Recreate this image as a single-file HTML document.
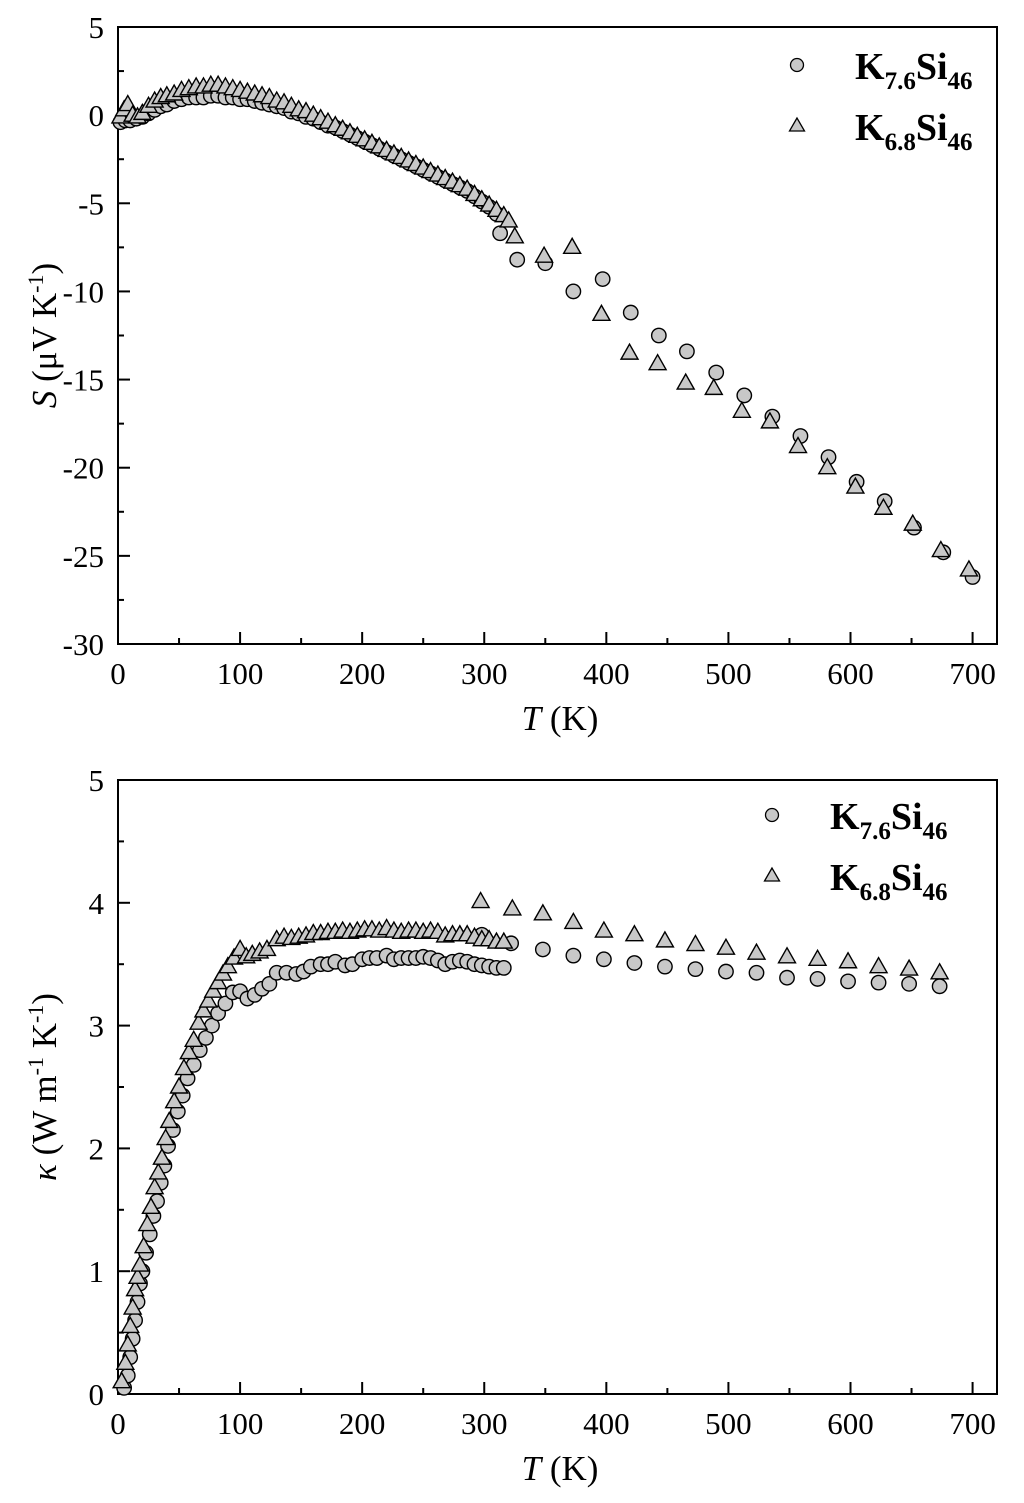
<!DOCTYPE html>
<html><head><meta charset="utf-8"><style>
html,body{margin:0;padding:0;background:#fff}
svg{display:block;font-family:"Liberation Serif",serif}
</style></head><body>
<svg id="chart" width="1024" height="1503" viewBox="0 0 1024 1503">
<g id="top"></g>
<g id="bot"></g>
</svg>
<script>
// Seebeck data (T in K, S in uV/K)
const sCircT=[2,6,10,15,20,25,30,35,40,46,52,58,64,70,76,82,88,94,100,106,112,118,124,130,136,142,148,154,160,166,172,178,184,190,196,202,208,214,220,226,232,238,244,250,256,262,268,274,280,286,292,298,304,310,313,327,350,373,397,420,443,466,490,513,536,559,582,605,628,652,676,700];
const sCircV=[-0.4,-0.3,-0.3,-0.2,-0.1,0.1,0.3,0.5,0.6,0.8,0.9,1.0,1.0,1.0,1.1,1.1,1.0,1.0,0.9,0.9,0.8,0.7,0.6,0.5,0.4,0.2,0.1,-0.1,-0.2,-0.4,-0.6,-0.7,-0.9,-1.1,-1.3,-1.5,-1.7,-1.9,-2.1,-2.3,-2.5,-2.7,-2.9,-3.1,-3.3,-3.5,-3.7,-3.9,-4.1,-4.3,-4.6,-4.9,-5.2,-5.6,-6.7,-8.2,-8.4,-10.0,-9.3,-11.2,-12.5,-13.4,-14.6,-15.9,-17.1,-18.2,-19.4,-20.8,-21.9,-23.4,-24.8,-26.2];
const sTriT=[2,5,8,12,16,20,25,30,35,40,46,52,58,64,70,76,82,88,94,100,106,112,118,124,130,136,142,148,154,160,166,172,178,184,190,196,202,208,214,220,226,232,238,244,250,256,262,268,274,280,286,292,298,304,310,316,320,325,349,372,396,419,442,465,488,511,534,557,581,604,627,651,674,697];
const sTriV=[-0.1,0.3,0.6,0.0,-0.1,0.1,0.5,0.8,1.0,1.1,1.2,1.4,1.5,1.6,1.6,1.7,1.7,1.6,1.5,1.4,1.3,1.2,1.1,1.0,0.8,0.7,0.5,0.3,0.2,0.0,-0.2,-0.4,-0.6,-0.8,-1.0,-1.2,-1.4,-1.6,-1.8,-2.0,-2.2,-2.4,-2.6,-2.8,-3.0,-3.2,-3.4,-3.6,-3.8,-4.0,-4.2,-4.5,-4.8,-5.1,-5.4,-5.7,-6.0,-6.9,-8.0,-7.5,-11.3,-13.5,-14.1,-15.2,-15.5,-16.8,-17.4,-18.8,-20.0,-21.1,-22.3,-23.2,-24.7,-25.8];
// Thermal conductivity data (W m-1 K-1)
const kCircT=[5,8,10,12,14,16,18,20,23,26,29,32,35,38,41,45,49,53,57,62,67,72,77,82,88,94,100,106,112,118,124,130,138,146,152,158,166,172,178,186,192,200,206,212,220,226,232,238,244,250,256,262,268,274,280,286,292,298,304,310,316,298,322,348,373,398,423,448,473,498,523,548,573,598,623,648,673];
const kCircV=[0.05,0.15,0.3,0.45,0.6,0.75,0.9,1.0,1.15,1.3,1.45,1.57,1.72,1.86,2.02,2.15,2.3,2.43,2.57,2.68,2.8,2.9,3.0,3.1,3.18,3.27,3.28,3.22,3.25,3.3,3.34,3.43,3.43,3.42,3.44,3.48,3.5,3.5,3.52,3.49,3.5,3.54,3.55,3.55,3.57,3.54,3.55,3.55,3.55,3.56,3.55,3.53,3.5,3.52,3.53,3.52,3.5,3.49,3.48,3.47,3.47,3.74,3.67,3.62,3.57,3.54,3.51,3.48,3.46,3.44,3.43,3.39,3.38,3.36,3.35,3.34,3.32];
const kTriT=[3,6,8,10,12,14,16,18,21,24,27,30,33,36,39,42,46,50,54,58,62,66,70,74,78,82,86,90,95,100,105,110,116,122,130,136,142,148,154,160,166,172,178,184,190,196,202,208,214,220,226,232,238,244,250,256,262,268,274,280,286,292,298,304,310,316,297,323,348,373,398,423,448,473,498,523,548,573,598,623,648,673];
const kTriV=[0.1,0.25,0.4,0.55,0.7,0.85,0.95,1.05,1.2,1.38,1.52,1.68,1.8,1.92,2.08,2.22,2.38,2.5,2.65,2.78,2.88,3.02,3.12,3.2,3.28,3.35,3.42,3.48,3.55,3.62,3.56,3.58,3.6,3.62,3.7,3.72,3.71,3.72,3.73,3.75,3.75,3.76,3.76,3.77,3.76,3.77,3.78,3.78,3.77,3.79,3.77,3.76,3.77,3.77,3.76,3.77,3.76,3.73,3.74,3.74,3.74,3.72,3.7,3.7,3.68,3.68,4.01,3.95,3.91,3.84,3.77,3.74,3.69,3.66,3.63,3.59,3.56,3.54,3.52,3.48,3.46,3.43];
const xTicks=[0,100,200,300,400,500,600,700];
const sTicks=[5,0,-5,-10,-15,-20,-25,-30];
const kTicks=[0,1,2,3,4,5];

const NS='http://www.w3.org/2000/svg';
function mk(parent,tag,attrs,name){const e=document.createElementNS(NS,tag);for(const k in attrs)e.setAttribute(k,attrs[k]);


parent.appendChild(e);return e;}
const XL=118,XR=997;
const xs=t=>XL+(t-0)/(720)*(XR-XL);

function panel(g,yTop,yBot,ymin,ymax,yticks,yminorStep,circT,circV,triT,triV,ytitle,leg){
  const ys=v=>yBot-(v-ymin)/(ymax-ymin)*(yBot-yTop);
  mk(g,'rect',{x:XL,y:yTop,width:XR-XL,height:yBot-yTop,fill:'none',stroke:'#000','stroke-width':2},'plot-frame');
  for(let t=0;t<=700;t+=50){const major=t%100===0;
    mk(g,'line',{x1:xs(t),x2:xs(t),y1:yBot,y2:yBot-(major?12:6),stroke:'#000','stroke-width':2},'x-tick');}
  xTicks.forEach(t=>{const e=mk(g,'text',{x:xs(t),y:yBot+40,'font-size':31,'text-anchor':'middle'},'x-tick-label');e.textContent=t;});
  for(let v=ymin;v<=ymax+1e-9;v+=yminorStep){const major=Math.abs(v-Math.round(v/ (yminorStep*2))*(yminorStep*2))<1e-6;
    mk(g,'line',{x1:XL,x2:XL+(major?12:6),y1:ys(v),y2:ys(v),stroke:'#000','stroke-width':2},'y-tick');}
  yticks.forEach(v=>{const e=mk(g,'text',{x:104,y:ys(v)+11,'font-size':31,'text-anchor':'end'},'y-tick-label');e.textContent=v;});
  const xt=mk(g,'text',{x:560,y:yBot+86,'font-size':35,'text-anchor':'middle'},'x-axis-title');
  xt.innerHTML='<tspan font-style="italic">T</tspan> (K)';
  const yt=mk(g,'text',{x:0,y:0,'font-size':35,'text-anchor':'middle',transform:`translate(56,${(yTop+yBot)/2}) rotate(-90)`},'y-axis-title');
  yt.innerHTML=ytitle;
  const sc=mk(g,'g',{},'series-k7.6si46');
  circT.forEach((t,i)=>mk(sc,'circle',{cx:xs(t),cy:ys(circV[i]),r:7.2,fill:'#c8c8c8',stroke:'#000','stroke-width':1.4},'point-circle'));
  const st=mk(g,'g',{},'series-k6.8si46');
  triT.forEach((t,i)=>{const x=xs(t),y=ys(triV[i]);
    mk(st,'polygon',{points:`${x},${y-9} ${x-8.5},${y+6} ${x+8.5},${y+6}`,fill:'#c8c8c8',stroke:'#000','stroke-width':1.4},'point-triangle');});
  const lg=mk(g,'g',{},'legend');
  mk(lg,'circle',{cx:leg[0],cy:leg[1],r:6.5,fill:'#c8c8c8',stroke:'#000','stroke-width':1.3},'legend-circle-marker');
  const ty=leg[1]+61;
  mk(lg,'polygon',{points:`${leg[0]},${ty-8} ${leg[0]-7.5},${ty+5} ${leg[0]+7.5},${ty+5}`,fill:'#c8c8c8',stroke:'#000','stroke-width':1.3},'legend-triangle-marker');
  const l1=mk(lg,'text',{x:leg[2],y:leg[1]+14,'font-size':38,'font-weight':'bold'},'legend-label-k7.6si46');
  l1.innerHTML='K<tspan font-size="25" dy="10">7.6</tspan><tspan dy="-10">Si</tspan><tspan font-size="25" dy="10">46</tspan>';
  const l2=mk(lg,'text',{x:leg[2],y:ty+14,'font-size':38,'font-weight':'bold'},'legend-label-k6.8si46');
  l2.innerHTML='K<tspan font-size="25" dy="10">6.8</tspan><tspan dy="-10">Si</tspan><tspan font-size="25" dy="10">46</tspan>';
}
panel(document.getElementById('top'),27,644,-30,5,sTicks,2.5,sCircT,sCircV,sTriT,sTriV,
  '<tspan font-style="italic">S</tspan> (μV K<tspan font-size="22" dy="-13">-1</tspan><tspan dy="13">)</tspan>',[797,65,855]);
panel(document.getElementById('bot'),780,1394,0,5,kTicks,0.5,kCircT,kCircV,kTriT,kTriV,
  '<tspan font-style="italic">κ</tspan> (W m<tspan font-size="22" dy="-13">-1</tspan><tspan dy="13"> K</tspan><tspan font-size="22" dy="-13">-1</tspan><tspan dy="13">)</tspan>',[772,815,830]);
</script>
</body></html>
